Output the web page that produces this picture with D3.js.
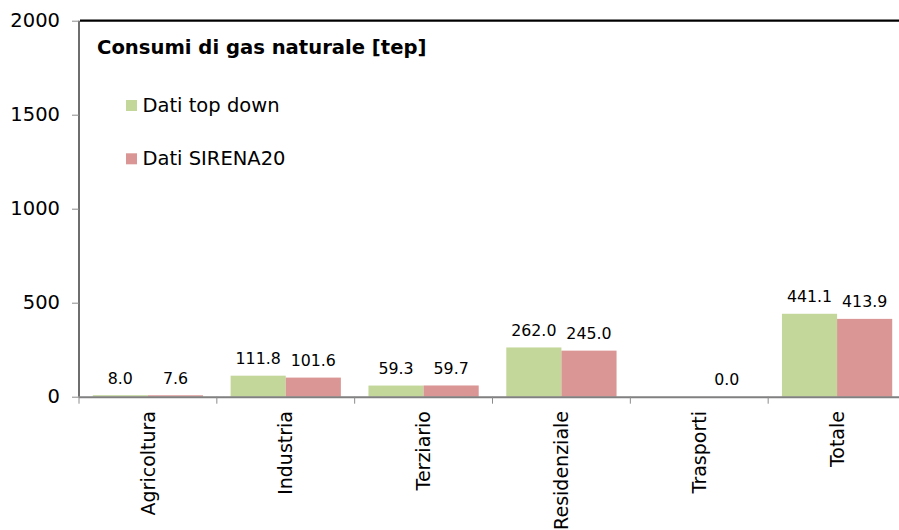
<!DOCTYPE html>
<html>
<head>
<meta charset="utf-8">
<script src="https://cdn.jsdelivr.net/npm/d3@7/dist/d3.min.js"></script>
<style>
  html, body { margin: 0; padding: 0; background: #fff; }
  svg { display: block; font-family: "DejaVu Sans", Verdana, sans-serif; }
</style>
</head>
<body>
<svg id="chart" width="899" height="530"></svg>
<script>
// Natural gas consumption by sector [tep]
const categories = ["Agricoltura", "Industria", "Terziario", "Residenziale", "Trasporti", "Totale"];
const seriesNames = ["Dati top down", "Dati SIRENA20"];
const topDown = [8.0, 111.8, 59.3, 262.0, null, 441.1];
const sirena20 = [7.6, 101.6, 59.7, 245.0, 0.0, 413.9];
const yTicks = [0, 500, 1000, 1500, 2000];
const colors = ["#c4d79b", "#da9694"];
const title = "Consumi di gas naturale [tep]";

const svg = d3.select("#chart");

const x0 = d3.scaleBand().domain(categories).range([79, 906]).paddingInner(0.2).paddingOuter(0.1);
const x1 = d3.scaleBand().domain(seriesNames).range([0, x0.bandwidth()]);
const y = d3.scaleLinear().domain([0, 2000]).range([396.7, 20.7]);

const rows = categories.map((c, i) => ({ cat: c, vals: [topDown[i], sirena20[i]] }));

// Bars
const groups = svg.append("g").selectAll("g").data(rows).join("g")
  .attr("transform", d => `translate(${x0(d.cat)},0)`);

groups.selectAll("rect")
  .data(d => d.vals.map((v, k) => ({ v, k })).filter(e => e.v !== null))
  .join("rect")
  .attr("x", e => x1(seriesNames[e.k]))
  .attr("width", x1.bandwidth())
  .attr("y", e => y(e.v))
  .attr("height", e => y(0) - y(e.v))
  .attr("fill", e => colors[e.k]);

// Value labels
groups.selectAll("text")
  .data(d => d.vals.map((v, k) => ({ v, k })).filter(e => e.v !== null))
  .join("text")
  .attr("x", e => x1(seriesNames[e.k]) + x1.bandwidth() / 2)
  .attr("y", e => y(e.v) - 11.5)
  .attr("text-anchor", "middle")
  .attr("font-size", 15.8)
  .attr("fill", "#000")
  .text(e => d3.format(".1f")(e.v));

// Top frame line
svg.append("line")
  .attr("x1", 80).attr("x2", 899)
  .attr("y1", y(2000)).attr("y2", y(2000))
  .attr("stroke", "#000").attr("stroke-width", 2.2);

// Y axis
const yAxis = svg.append("g").attr("transform", "translate(79,0)")
  .call(d3.axisLeft(y).tickValues(yTicks).tickSize(7).tickPadding(12).tickFormat(d3.format("d")));
yAxis.select(".domain").attr("stroke", "#6e6e6e").attr("stroke-width", 2)
  .attr("d", `M0,${y(2000)}V${y(0)}`);
yAxis.selectAll(".tick line").attr("stroke", "#8c8c8c");
yAxis.selectAll(".tick text").attr("font-size", 19.5).attr("fill", "#000")
  .attr("font-family", "DejaVu Sans, Verdana, sans-serif");

// X axis: baseline and boundary ticks
const bounds = categories.map(c => x0(c) - x0.step() * x0.paddingInner() / 2);
const xAxis = svg.append("g");
xAxis.append("line")
  .attr("x1", 79).attr("x2", 899)
  .attr("y1", y(0) + 0.5).attr("y2", y(0) + 0.5)
  .attr("stroke", "#808080").attr("stroke-width", 2);
xAxis.selectAll("line.tk").data(bounds).join("line")
  .attr("class", "tk")
  .attr("x1", d => d).attr("x2", d => d)
  .attr("y1", y(0)).attr("y2", y(0) + 7)
  .attr("stroke", "#8c8c8c").attr("stroke-width", 1);

// Category labels (rotated)
xAxis.selectAll("text").data(categories).join("text")
  .attr("transform", c => `translate(${x0(c) + x0.bandwidth() / 2},411) rotate(-90)`)
  .attr("text-anchor", "end")
  .attr("dy", "0.35em")
  .attr("font-size", 19)
  .attr("fill", "#000")
  .text(c => c);

// Title
svg.append("text")
  .attr("x", 97).attr("y", 54)
  .attr("font-size", 19.6).attr("font-weight", "bold")
  .attr("fill", "#000")
  .text(title);

// Legend
const legend = svg.append("g").selectAll("g").data(seriesNames).join("g")
  .attr("transform", (d, i) => `translate(126,${100 + i * 53.3})`);
legend.append("rect")
  .attr("width", 11).attr("height", 11)
  .attr("fill", (d, i) => colors[i]);
legend.append("text")
  .attr("x", 16.5).attr("y", 11.7)
  .attr("font-size", 19.5).attr("fill", "#000")
  .text(d => d);
</script>
</body>
</html>
